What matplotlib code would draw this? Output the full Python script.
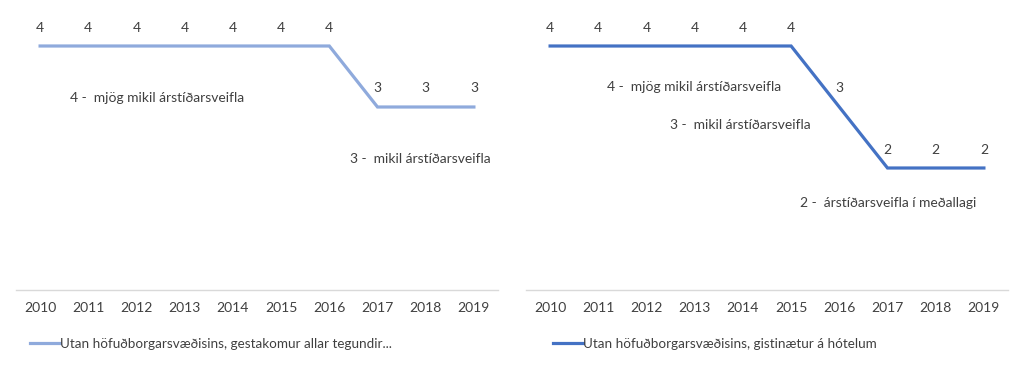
import matplotlib.pyplot as plt
import numpy as np

# data
years = ['2010', '2011', '2012', '2013', '2014', '2015', '2016', '2017', '2018', '2019']
gestakomur = [4, 4, 4, 4, 4, 4, 4, 3, 3, 3]
gistinaetur = [4, 4, 4, 4, 4, 4, 3, 2, 2, 2]
left_name = 'Utan höfuðborgarsvæðisins, gestakomur allar tegundir...'
right_name = 'Utan höfuðborgarsvæðisins, gistinætur á hótelum'

# scale text: (label, x, y)
left_notes = [('4 -  mjög mikil árstíðarsveifla', 2.43, 3.15),
              ('3 -  mikil árstíðarsveifla', 7.88, 2.15)]
right_notes = [('4 -  mjög mikil árstíðarsveifla', 2.98, 3.33),
               ('3 -  mikil árstíðarsveifla', 3.95, 2.70),
               ('2 -  árstíðarsveifla í meðallagi', 7.02, 1.43)]

plt.rcParams['font.family'] = ['Lato', 'DejaVu Sans']
txt = '#404040'

fig = plt.figure(figsize=(10.24, 3.7), dpi=100)
W, H = 1024, 370
ax1 = fig.add_axes([16 / W, 80 / H, 482 / W, 290 / H])
ax2 = fig.add_axes([526 / W, 80 / H, 482 / W, 290 / H])

x = np.arange(len(years))


def draw(ax, vals, color, notes, name, leg_x):
    ax.plot(x, vals, color=color, lw=2.3, solid_joinstyle='miter', label=name)
    for i, v in enumerate(vals):
        ax.annotate(str(v), (x[i], v), xytext=(0, 9), textcoords='offset points',
                    ha='center', va='bottom', fontsize=10, color=txt)
    for s, nx, ny in notes:
        ax.text(nx, ny, s, ha='center', va='center', fontsize=10, color=txt)
    ax.set_xlim(-0.5, 9.5)
    ax.set_ylim(0, 290 / 61)
    ax.set_xticks(x)
    ax.set_xticklabels(years, fontsize=10, color=txt)
    ax.tick_params(axis='x', length=0, pad=9)
    ax.set_yticks([])
    for sp in ['top', 'left', 'right']:
        ax.spines[sp].set_visible(False)
    ax.spines['bottom'].set_color('#D9D9D9')
    ax.spines['bottom'].set_linewidth(1)
    ax.patch.set_alpha(0)
    fig.legend(handles=ax.get_lines(), labels=[name], loc='center left',
               bbox_to_anchor=(leg_x / W, 1 - 344 / H), frameon=False,
               fontsize=9.7, handlelength=2.2, handletextpad=0.05,
               borderaxespad=0, borderpad=0, labelcolor=txt)


draw(ax1, gestakomur, '#8FAADC', left_notes, left_name, 30)
draw(ax2, gistinaetur, '#4472C4', right_notes, right_name, 553)

fig.savefig('out.png', dpi=100)
